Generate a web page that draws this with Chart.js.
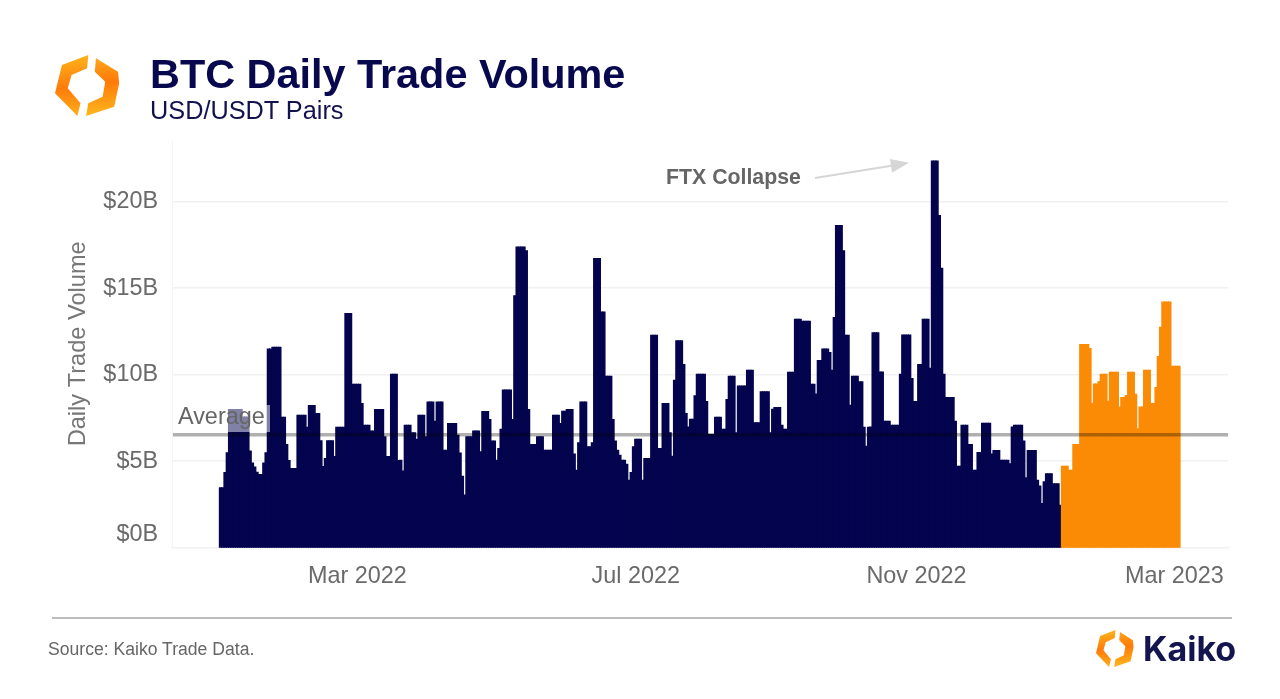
<!DOCTYPE html>
<html>
<head>
<meta charset="utf-8">
<title>BTC Daily Trade Volume</title>
<script src="https://cdn.jsdelivr.net/npm/chart.js@4/dist/chart.umd.js"></script>
<style>
  html, body { margin: 0; padding: 0; background: #fff; }
  #page { position: relative; width: 1280px; height: 699px; overflow: hidden; font-family: "Liberation Sans", Arial, sans-serif; }
  #page canvas { position: absolute; left: 0; top: 0; }
  .txt { position: absolute; white-space: nowrap; line-height: 1; }
  #title { left: 150px; top: 54px; font-size: 41.4px; font-weight: bold; color: #08084f; }
  #subtitle { left: 150px; top: 98px; font-size: 25.3px; color: #12124f; }
  #source { left: 48px; top: 641px; font-size: 17.6px; color: #666; }
  #brand { left: 1143px; top: 632px; font-family: Inter, sans-serif; font-size: 34px; font-weight: bold; color: #14144f; }
  #ftx { left: 666px; top: 167px; font-size: 21.3px; font-weight: bold; color: #666; }
  #avgbox { position: absolute; left: 175px; top: 405px; width: 95px; height: 27px; background: rgba(255,255,255,.5); }
  #avg { left: 178px; top: 405px; font-size: 23.4px; color: #666; }
  #rule { position: absolute; left: 52px; top: 617px; width: 1180px; height: 2px; background: #bdbdbd; }
  svg.overlay { position: absolute; left: 0; top: 0; }
</style>
</head>
<body>
<div id="page">
  <canvas id="chart" width="1280" height="699"></canvas>
  <div id="avgbox"></div>
  <div id="avg" class="txt">Average</div>
  <div id="title" class="txt">BTC Daily Trade Volume</div>
  <div id="subtitle" class="txt">USD/USDT Pairs</div>
  <div id="ftx" class="txt">FTX Collapse</div>
  <div id="rule"></div>
  <div id="source" class="txt">Source: Kaiko Trade Data.</div>
  <div id="brand" class="txt">Kaiko</div>
  <svg class="overlay" width="1280" height="699">
    <defs>
      <linearGradient id="gl" x1="0" y1="0" x2="0" y2="1">
        <stop offset="0" stop-color="#fdb31a"/><stop offset=".55" stop-color="#ff7b0a"/><stop offset="1" stop-color="#fdb01c"/>
      </linearGradient>
      <linearGradient id="gr" x1="0" y1="0" x2="0" y2="1">
        <stop offset="0" stop-color="#fda51a"/><stop offset=".4" stop-color="#ff7a08"/><stop offset="1" stop-color="#fdb71f"/>
      </linearGradient>
      <symbol id="logo" viewBox="54 55 56 61" preserveAspectRatio="none">
        <polygon fill="url(#gl)" points="82.7,55 60,65 54,93.3 73.3,116 76,103.3 65,88.3 68.3,75 81.7,68.3"/>
        <polygon fill="url(#gr)" points="89.3,58.3 108.3,71.7 109.3,83.3 105,106.7 80.7,116 82.7,103.3 95,96.7 97.3,81.7 88.3,71.7"/>
      </symbol>
    </defs>
    <use href="#logo" x="55" y="55" width="65" height="61"/>
    <use href="#logo" x="1096" y="630" width="38" height="37"/>
    <line x1="815" y1="178" x2="893" y2="165.5" stroke="#d6d6d6" stroke-width="2"/>
    <polygon points="909,162.7 890,159 892,172.7" fill="#d6d6d6"/>
  </svg>
</div>
<script>
// daily volume in $B
const volume2022 = [
  3.47,3.47,4.36,5.5,8,8,8,8,8,8,7.57,7.57,7.57,5.6,4.9,4.68,4.37,4.24,4.24,4.9,
  5.5,11.5,11.5,11.6,11.6,11.6,11.6,7.55,7.55,5.97,5.05,4.59,4.59,4.59,7.67,7.67,7.67,7.67,6.98,8.23,
  8.23,8.23,7.77,7.77,6.19,4.7,5.17,6.19,6.19,6.19,5.28,6.98,6.98,6.98,6.98,13.55,13.55,13.55,9.46,9.46,
  9.46,9.46,8.35,7.09,7.09,7.09,6.75,6.75,8,8,8,8,6.42,5.28,5.28,10.04,10.04,10.04,5.05,5.07,
  4.45,7.09,7.09,7.09,6.65,6.65,6.28,7.67,7.67,7.67,6.42,8.44,8.44,8.44,7.32,8.44,8.44,8.44,5.65,5.65,
  7.19,7.19,7.19,7.19,6.51,5.49,4.14,3.05,6.42,6.42,6.42,6.75,6.75,6.75,5.55,7.88,7.88,7.88,7.42,6.18,
  6.18,5.07,5.74,6.86,9.12,9.12,9.12,9.12,7.42,14.57,17.4,17.4,17.4,17.4,17.17,8,5.98,5.98,5.98,6.42,
  6.42,6.42,5.65,5.65,5.65,5.65,7.67,7.67,7.67,7.19,7.9,7.9,8,8,8,5.42,4.49,6.07,8.44,8.44,
  8.44,5.84,5.84,6.07,16.73,16.73,16.73,13.64,13.64,9.92,9.92,9.92,7.42,6.18,5.65,5.36,5.07,5.07,4.84,3.91,
  4.36,5.84,6.28,6.28,6.28,3.91,5.17,5.17,5.17,12.29,12.29,12.29,5.74,5.74,8.35,8.35,8.35,6.65,5.3,9.69,
  11.97,11.97,11.97,10.6,7.77,6.99,7.44,7.44,8.79,10.04,10.04,10.04,10.04,8.46,6.55,6.55,6.55,7.55,7.55,7.55,
  6.86,6.86,8.58,9.92,9.92,9.92,6.65,9.36,9.36,9.36,9.36,10.27,10.27,10.27,7.23,7.23,7.23,9.02,9.02,9.02,
  9.02,6.65,8.02,8.12,8.12,8.12,7.09,6.86,6.86,10.16,10.16,10.16,13.22,13.22,13.22,13.1,13.1,13.1,13.1,9.46,
  9.46,8.9,10.83,10.83,11.5,11.5,11.5,11.3,10.27,13.32,18.64,18.64,18.64,17.17,12.29,12.29,8.25,9.92,9.92,9.92,
  9.6,9.6,6.98,5.88,6.98,6.99,12.43,12.43,12.43,10.17,10.17,7.32,7.32,7.32,7.09,7.09,7.09,7.09,10.04,12.31,
  12.31,12.31,12.31,9.79,8.46,8.46,10.6,10.6,13.22,13.22,13.22,10.39,22.37,22.37,22.37,19.21,16.17,10.04,8.69,8.69,
  8.69,8.69,7.32,4.72,4.72,7.09,7.09,7.09,5.98,5.98,4.49,4.49,5.51,5.51,7.21,7.21,7.21,7.21,5.42,5.63,
  5.63,5.63,5.07,5.07,5.07,5.07,4.86,6.99,7.09,7.09,7.09,7.09,6.18,4.05,5.63,5.63,5.63,5.63,3.91,3.58,
  2.57,3.82,4.28,4.28,4.28,3.7,3.7,3.7,2.47
];
const volume2023 = [
  4.72,4.72,4.72,4.49,4.49,5.98,5.98,5.98,11.76,11.76,11.76,11.76,11.53,8.35,9.48,9.48,9.6,10.04,10.04,10.04,
  8.48,10.16,10.16,10.16,10.16,8.15,8.69,8.69,8.81,10.16,10.16,10.16,8.88,6.88,8.15,8.15,10.27,10.27,10.27,8.35,
  8.35,9.27,11.06,12.76,14.22,14.22,14.22,14.22,10.5,10.5,10.5,10.5
];
const averageVolume = 6.53;

// day numbers counted from the first bar
const xTickDays = [60, 182, 305, 418];
const xTickLabels = ["Mar 2022", "Jul 2022", "Nov 2022", "Mar 2023"];
const yTickValues = [0.75, 5, 10, 15, 20];
const yTickLabels = ["$0B", "$5B", "$10B", "$15B", "$20B"];

const navy = "#03034e";
const orange = "#fb8b05";
const tickGrey = "#6a6a6a";
const font = "'Liberation Sans', Arial, sans-serif";

const xMin = -21.25;
const xMax = 441.5;

// the grey average line darkens whatever it crosses
const multiplyLine = {
  id: "multiplyLine",
  beforeDatasetDraw(chart, args) {
    if (args.meta.type === "line") chart.ctx.globalCompositeOperation = "multiply";
  },
  afterDatasetDraw(chart, args) {
    if (args.meta.type === "line") chart.ctx.globalCompositeOperation = "source-over";
  },
};

new Chart(document.getElementById("chart").getContext("2d"), {
  type: "bar",
  plugins: [multiplyLine],
  data: {
    datasets: [
      {
        type: "line",
        label: "Average",
        data: [{ x: xMin + 0.4, y: averageVolume }, { x: xMax, y: averageVolume }],
        borderColor: "#b0b0b0",
        borderWidth: 3.5,
        pointRadius: 0,
        order: 0,
      },
      {
        label: "2023",
        data: volume2023.map((v, i) => ({ x: volume2022.length + i, y: v })),
        backgroundColor: orange,
        barThickness: 2.7,
        grouped: false,
        order: 1,
      },
      {
        label: "2022",
        data: volume2022.map((v, i) => ({ x: i, y: v })),
        backgroundColor: navy,
        barThickness: 2.7,
        grouped: false,
        order: 2,
      },
    ],
  },
  options: {
    responsive: false,
    animation: false,
    devicePixelRatio: 1,
    layout: { padding: { left: 66, right: 52, top: 140, bottom: 0 } },
    plugins: { legend: { display: false }, tooltip: { enabled: false } },
    scales: {
      x: {
        type: "linear",
        offset: false,
        min: xMin,
        max: xMax,
        afterBuildTicks: (scale) => { scale.ticks = xTickDays.map((v) => ({ value: v })); },
        afterFit: (scale) => { scale.height = 151.3; },
        grid: { display: false },
        border: { display: true, color: "#f0f0f0", width: 1.5 },
        ticks: {
          callback: (v, i) => xTickLabels[i],
          autoSkip: false,
          maxRotation: 0,
          padding: 7,
          color: tickGrey,
          font: { family: font, size: 23.4 },
        },
      },
      y: {
        min: 0,
        max: 23.57,
        afterBuildTicks: (scale) => { scale.ticks = yTickValues.map((v) => ({ value: v })); },
        afterFit: (scale) => { scale.width = 106; },
        grid: {
          drawTicks: false,
          lineWidth: 1.5,
          color: (c) => (c.tick && c.tick.value === yTickValues[0] ? "rgba(0,0,0,0)" : "#f1f1f1"),
        },
        border: { display: true, color: "#f4f4f4" },
        title: {
          display: true,
          text: "Daily Trade Volume",
          color: "#777",
          padding: 0,
          font: { family: font, size: 23.6, lineHeight: 1.1 },
        },
        ticks: {
          callback: (v, i) => yTickLabels[i],
          autoSkip: false,
          padding: 14,
          color: tickGrey,
          font: { family: font, size: 23.4 },
        },
      },
    },
  },
});
</script>
</body>
</html>
